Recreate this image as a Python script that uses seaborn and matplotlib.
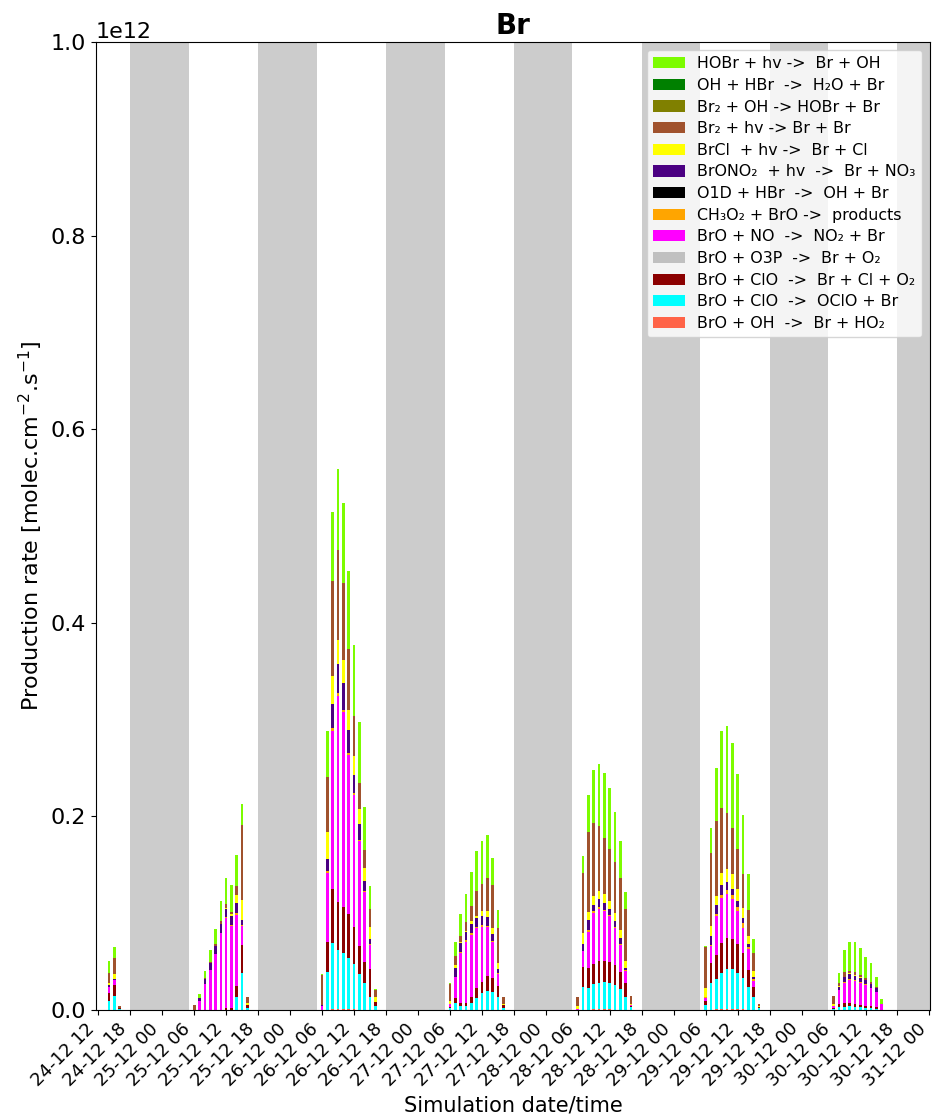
import numpy as np
import pandas as pd
import matplotlib
matplotlib.use("Agg")
import matplotlib.pyplot as plt
import seaborn as sns

# ---------------- data (values in 1e9 molec.cm-2.s-1) ----------------
reactions = [
    "HOBr + hv ->  Br + OH",
    "OH + HBr  ->  H₂O + Br",
    "Br₂ + OH -> HOBr + Br",
    "Br₂ + hv -> Br + Br",
    "BrCl  + hv ->  Br + Cl",
    "BrONO₂  + hv  ->  Br + NO₃",
    "O1D + HBr  ->  OH + Br",
    "CH₃O₂ + BrO ->  products",
    "BrO + NO  ->  NO₂ + Br",
    "BrO + O3P  ->  Br + O₂",
    "BrO + ClO  ->  Br + Cl + O₂",
    "BrO + ClO  ->  OClO + Br",
    "BrO + OH  ->  Br + HO₂",
]
colors = ["#7CFC00", "#008000", "#808000", "#A0522D", "#FFFF00", "#4B0082",
          "#000000", "#FFA500", "#FF00FF", "#C0C0C0", "#8B0000", "#00FFFF",
          "#FF6347"]

# hours since 24-12 12:00 of each plotted bar
bar_hours = [2, 3, 4,
             18, 19, 20, 21, 22, 23, 24, 25, 26, 27, 28,
             42, 43, 44, 45, 46, 47, 48, 49, 50, 51, 52,
             66, 67, 68, 69, 70, 71, 72, 73, 74, 75, 76,
             90, 91, 92, 93, 94, 95, 96, 97, 98, 99, 100,
             114, 115, 116, 117, 118, 119, 120, 121, 122, 123, 124,
             138, 139, 140, 141, 142, 143, 144, 145, 146, 147]

hobr_hv = [12.1, 11.4, 0,
           0, 3.4, 7.5, 12.7, 15.2, 20.7, 26.5, 27.9, 32.0, 20.7, 0,
           1.5, 47.0, 71.9, 83.9, 82.7, 80.9, 73.3, 62.8, 45.1, 24.1, 1.0,
           1.0, 14.8, 22.4, 28.2, 35.4, 41.3, 44.7, 44.7, 28.2, 18.3, 0.7,
           0, 17.3, 37.9, 55.5, 63.7, 66.4, 62.7, 51.7, 37.9, 17.9, 0,
           1.0, 25.8, 54.4, 79.2, 89.6, 87.1, 76.8, 60.9, 37.5, 14.8, 0,
           0, 10.3, 23.4, 30.7, 31.0, 28.2, 21.7, 19.6, 11.1, 4.9]
oh_hbr = [0.0] * len(bar_hours)
br2_oh = [0.0] * len(bar_hours)
br2_hv = [11.1, 17.3, 1.5,
          5.2, 0.5, 0.7, 1.0, 1.8, 3.1, 4.4, 2.1, 9.3, 78.2, 6.2,
          31.0, 57.5, 97.8, 93.0, 79.7, 62.8, 41.4, 26.3, 17.7, 18.1, 7.5,
          17.3, 9.3, 5.9, 9.6, 15.5, 25.5, 28.6, 33.4, 44.7, 36.9, 6.9,
          9.0, 62.0, 82.6, 74.7, 67.1, 58.6, 53.4, 53.4, 54.0, 53.7, 8.0,
          42.4, 75.1, 77.5, 67.1, 57.8, 48.2, 41.3, 34.4, 26.1, 17.9, 2.1,
          8.6, 3.4, 4.9, 2.1, 2.4, 2.1, 1.8, 1.5, 1.0, 0]
brcl_hv = [1.8, 5.2, 0.5,
           0, 0, 0, 0, 0, 0, 1.0, 2.1, 8.0, 20.7, 2.1,
           0, 28.2, 28.9, 24.5, 23.3, 21.5, 19.5, 15.8, 13.5, 12.1, 4.5,
           3.1, 2.8, 1.0, 0.7, 3.1, 2.8, 5.2, 6.2, 6.2, 5.9, 1.0,
           3.1, 11.1, 8.6, 9.6, 8.6, 8.6, 8.0, 7.5, 8.0, 7.5, 0.5,
           9.3, 10.3, 9.3, 13.1, 13.7, 14.8, 12.7, 11.1, 8.3, 6.2, 0.5,
           2.1, 1.0, 0.5, 1.0, 1.0, 0.5, 0.5, 0.5, 0, 0]
brono2_hv = [1.8, 0.5, 0,
             0, 3.1, 5.5, 6.9, 8.6, 9.6, 8.6, 9.3, 11.1, 4.4, 0,
             0.5, 12.1, 24.5, 30.1, 27.5, 22.9, 18.8, 16.2, 11.0, 5.7, 0,
             0, 9.3, 9.3, 8.6, 9.6, 8.6, 8.6, 9.3, 6.5, 4.4, 0,
             0, 6.9, 10.3, 5.9, 8.6, 7.5, 6.5, 6.9, 5.9, 1.8, 0.5,
             0, 9.3, 9.6, 10.3, 8.3, 6.9, 6.2, 5.2, 3.8, 2.8, 0,
             0, 2.8, 4.4, 5.2, 4.4, 4.1, 4.1, 3.4, 3.4, 0]
o1d_hbr = [0.0] * len(bar_hours)
ch3o2_bro = [0, 0, 0,
             0, 0, 0, 0, 0, 0, 1.0, 1.0, 1.8, 1.3, 0,
             0, 1.9, 3.7, 3.0, 2.6, 2.6, 1.9, 1.9, 1.1, 1.1, 0,
             0, 0, 1.0, 1.8, 1.8, 1.8, 1.8, 1.0, 1.0, 0.7, 0,
             0, 0, 1.8, 1.8, 1.8, 1.0, 1.0, 1.0, 1.0, 0.5, 0,
             0.5, 1.0, 1.8, 2.4, 4.4, 4.1, 4.1, 4.4, 1.8, 1.3, 0.5,
             0, 0, 1.0, 0.7, 0.7, 1.0, 1.0, 0.7, 0.5, 0]
bro_no = [6.9, 5.2, 0,
          0, 9.3, 26.5, 41.3, 57.8, 79.2, 92.7, 84.7, 73.3, 19.9, 0,
          4.6, 70.8, 162.5, 213.3, 201.2, 164.4, 136.6, 107.9, 71.5, 24.5, 0,
          2.8, 22.4, 51.7, 63.0, 63.7, 62.0, 56.8, 50.6, 37.9, 12.4, 0,
          1.0, 17.3, 37.9, 53.4, 53.4, 51.7, 48.2, 37.9, 27.6, 12.4, 1.0,
          3.6, 17.3, 40.6, 47.2, 44.7, 40.6, 34.4, 25.8, 21.4, 6.2, 0,
          2.1, 14.5, 21.4, 24.1, 24.1, 23.4, 21.4, 18.3, 15.8, 6.2]
bro_o3p = [0.0] * len(bar_hours)
bro_clo_cl = [7.5, 11.1, 1.0,
              0, 0, 0, 0, 0, 0, 2.1, 2.1, 11.1, 29.2, 2.4,
              0, 31.2, 55.7, 48.9, 47.4, 45.1, 38.3, 29.3, 22.5, 29.3, 4.5,
              1.8, 4.4, 3.4, 3.4, 6.2, 9.6, 12.1, 15.8, 13.7, 11.1, 2.8,
              0, 19.9, 19.9, 20.7, 22.4, 21.4, 20.7, 20.7, 18.3, 15.2, 1.3,
              4.1, 21.4, 24.8, 30.3, 32.7, 31.7, 30.0, 25.8, 17.3, 11.1, 1.0,
              1.0, 3.4, 3.4, 2.8, 2.8, 2.1, 2.1, 2.1, 1.3, 0]
bro_clo_oclo = [9.6, 14.8, 1.0,
                0, 0, 0, 0, 0, 0, 0, 0, 13.7, 37.9, 2.4,
                0, 39.5, 68.8, 61.4, 58.3, 53.0, 46.3, 36.9, 27.5, 13.1, 4.1,
                1.8, 7.5, 4.1, 4.1, 7.5, 12.7, 17.3, 19.6, 18.9, 13.7, 2.4,
                0.5, 24.1, 23.0, 25.8, 27.6, 28.6, 27.6, 25.8, 21.4, 13.1, 2.8,
                5.2, 27.6, 31.0, 37.9, 41.3, 41.3, 37.2, 32.7, 24.1, 13.1, 2.1,
                1.0, 2.8, 3.4, 4.1, 3.4, 2.8, 2.4, 2.1, 1.3, 0.5]
bro_oh = [0, 0, 0,
          0, 0, 0, 0, 0, 0, 0, 0, 0, 0, 0,
          0, 0, 0.8, 0.8, 0.8, 0.8, 0.8, 0, 0, 0, 0,
          0, 0, 0, 0, 0, 0, 0, 0, 0, 0, 0,
          0, 0, 0, 0.8, 0.8, 0.8, 0.8, 0, 0, 0, 0,
          0, 0, 0.8, 0.8, 0.8, 0.8, 0.8, 0.8, 0, 0, 0,
          0, 0, 0, 0, 0, 0, 0, 0, 0, 0]

series = [hobr_hv, oh_hbr, br2_oh, br2_hv, brcl_hv, brono2_hv, o1d_hbr,
          ch3o2_bro, bro_no, bro_o3p, bro_clo_cl, bro_clo_oclo, bro_oh]

# night periods (hours since 24-12 12:00)
night_start = [6, 30, 54, 78, 102, 126, 150]
night_end = [17, 41, 65, 89, 113, 137, 161]

tick_labels = ["24-12 12", "24-12 18", "25-12 00", "25-12 06", "25-12 12",
               "25-12 18", "26-12 00", "26-12 06", "26-12 12", "26-12 18",
               "27-12 00", "27-12 06", "27-12 12", "27-12 18", "28-12 00",
               "28-12 06", "28-12 12", "28-12 18", "29-12 00", "29-12 06",
               "29-12 12", "29-12 18", "30-12 00", "30-12 06", "30-12 12",
               "30-12 18", "31-12 00"]

# ---------------- build long table ----------------
rows = []
for name, vals in zip(reactions, series):
    for h, v in zip(bar_hours, vals):
        rows.append({"hour": h, "reaction": name, "rate": v * 1e9})
df = pd.DataFrame(rows)

# ---------------- plot ----------------
fig = plt.figure(figsize=(9.33, 11.19), dpi=100)
ax = fig.add_axes([96 / 933, 1 - 1010 / 1119, (930 - 96) / 933, (1010 - 42) / 1119])

for s, e in zip(night_start, night_end):
    ax.axvspan(s, e, color="0.8", zorder=0, lw=0)

sns.histplot(data=df, x="hour", weights="rate", hue="reaction",
             hue_order=reactions, palette=colors, multiple="stack",
             discrete=True, shrink=0.5, linewidth=0, alpha=1, ax=ax,
             zorder=2)

ax.set_xlim(-0.43, 156.1)
ax.set_ylim(0, 1e12)
ax.set_xticks(np.arange(0, 157, 6))
ax.set_xticklabels(tick_labels, rotation=45, ha="right", fontsize=13)
ax.tick_params(axis="y", labelsize=16)
ax.yaxis.get_offset_text().set_fontsize(16)
ax.set_title("Br", fontsize=20, fontweight="bold")
ax.set_ylabel("Production rate [molec.cm$^{-2}$.s$^{-1}$]", fontsize=16)
ax.set_xlabel("Simulation date/time", fontsize=15)

sns.move_legend(ax, "upper right", title=None, fontsize=11.4,
                labelspacing=0.42, frameon=True)

fig.savefig("out.png", dpi=100)
